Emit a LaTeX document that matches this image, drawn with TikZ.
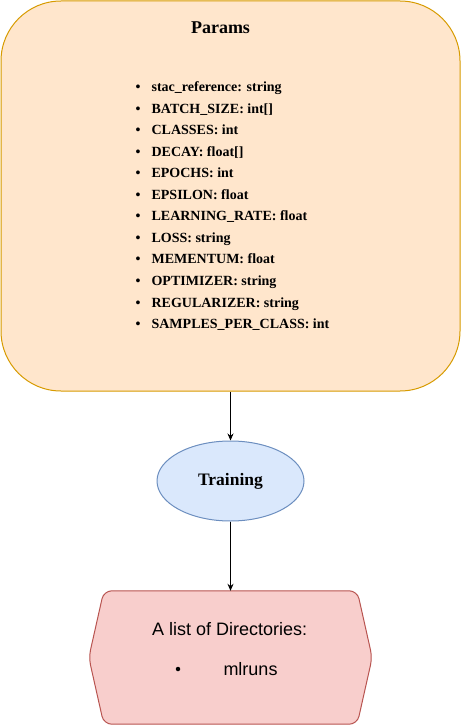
\documentclass[tikz,border=0pt]{standalone}
\usepackage{fontspec}
\setmainfont{Liberation Serif}
\newfontfamily\hexfont{Liberation Sans}
\usetikzlibrary{shapes.geometric,arrows.meta}
\definecolor{paramsfill}{HTML}{FFE6CC}
\definecolor{paramsline}{HTML}{D79B00}
\definecolor{trainfill}{HTML}{DAE8FC}
\definecolor{trainline}{HTML}{6C8EBF}
\definecolor{dirsfill}{HTML}{F8CECC}
\definecolor{dirsline}{HTML}{B85450}
\tikzset{
  arr/.style={-{Stealth[length=7pt,width=6pt]},line width=0.8pt},
  itemtext/.style={anchor=base west,inner sep=0pt,font=\bfseries\fontsize{14}{16}\selectfont}
}
\begin{document}
\begin{tikzpicture}[x=1pt,y=-1pt]
        \useasboundingbox (0,0) rectangle (461,725);
        % params box
        \node[draw=paramsline,fill=paramsfill,line width=1pt,rounded corners=60pt,minimum width=459pt,minimum height=390pt] (params) at (230.5,196) {};
        \node[anchor=base,inner sep=0pt,font=\bfseries\fontsize{18}{20}\selectfont] (title) at (220.5,34) {Params};
        \foreach \txt [count=\i] in {stac\_reference: string,BATCH\_SIZE: int[],CLASSES: int,DECAY: float[],EPOCHS: int,EPSILON: float,LEARNING\_RATE: float,LOSS: string,MEMENTUM: float,OPTIMIZER: string,REGULARIZER: string,SAMPLES\_PER\_CLASS: int}
            \node[itemtext] (item\i) at (135.5,{91.5+21.55*(\i-1)}) {\textbullet\hspace{11pt}\txt};
        % training
        \node[ellipse,draw=trainline,fill=trainfill,line width=1pt,minimum width=147pt,minimum height=80pt,inner sep=0pt,font=\bfseries\fontsize{17.5}{20}\selectfont] (train) at (230.5,481) {Training};
        % directories
        \node[minimum width=283pt,minimum height=133pt,inner sep=0pt] (dirs) at (230.5,657.5) {};
        \draw[draw=dirsline,fill=dirsfill,line width=1pt,rounded corners=8pt] ([xshift=15pt]dirs.north west) -- ([xshift=-15pt]dirs.north east) -- (dirs.east) -- ([xshift=-15pt]dirs.south east) -- ([xshift=15pt]dirs.south west) -- (dirs.west) -- cycle;
        \node[anchor=base,inner sep=0pt,font=\hexfont\fontsize{18}{20}\selectfont] (dirtitle) at (229.7,635) {A list of Directories:};
        \node[anchor=base west,inner sep=0pt,font=\hexfont\fontsize{18}{20}\selectfont] (mlruns) at (223.3,675) {mlruns};
        \node[circle,fill=black,inner sep=0pt,minimum size=4.5pt] (dot) at (178,669) {};
        \draw[arr] (params) -- (train);
        \draw[arr] (train) -- (dirs);
        \end{tikzpicture}
\end{document}
